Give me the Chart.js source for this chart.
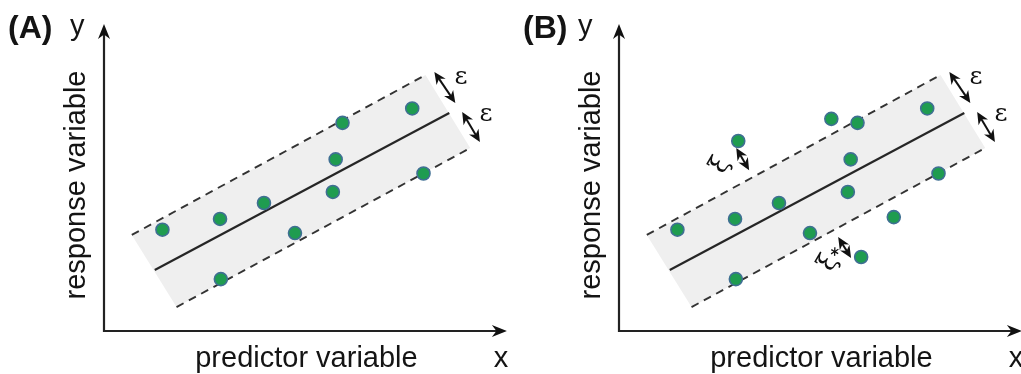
<!DOCTYPE html>
<html>
<head>
<meta charset="utf-8">
<script src="https://cdn.jsdelivr.net/npm/chart.js"></script>
<style>
  html, body { margin: 0; padding: 0; background: #fff; overflow: hidden; }
  #contenedor { position: relative; width: 1021px; height: 374px; overflow: hidden; }
  .panel { position: absolute; top: 0; width: 515px; height: 374px; }
  #panelA { left: 0; }
  #panelB { left: 515px; }
</style>
</head>
<body>
<div id="contenedor">
  <div class="panel" id="panelA"><canvas id="graficoA" width="515" height="374"></canvas></div>
  <div class="panel" id="panelB"><canvas id="graficoB" width="515" height="374"></canvas></div>
</div>
<script>
// Observaciones comunes a los dos paneles
const puntosX = [1.45, 2.88, 3.97, 4.74, 2.90, 5.68, 5.75, 5.92, 7.65, 7.93];
const puntosY = [3.30, 3.65, 4.17, 3.19, 1.69, 4.53, 5.59, 6.78, 7.25, 5.13];

// Observaciones extra del panel B (fuera de la banda)
const extraX = [5.27, 6.82, 6.01, 2.96];
const extraY = [6.91, 3.71, 2.41, 6.19];

// Recta ajustada y bordes de la banda (extremos)
const rectaX = [1.26, 8.57];
const rectaY = [1.99, 7.10];
const superiorX = [0.69, 7.98];
const superiorY = [3.13, 8.34];
const inferiorX = [1.80, 9.09];
const inferiorY = [0.78, 5.96];

// Flechas de epsilon (inicio, fin) y posición de sus etiquetas
const epsFlechas = [
  [[8.20, 8.44], [8.72, 7.43]],
  [[8.89, 7.13], [9.33, 6.16]]
];
const epsEtiquetas = [[8.86, 8.27], [9.48, 7.04]];

// Flechas de xi en el panel B
const xiFlechas = [
  [[2.91, 5.96], [3.23, 5.24]],
  [[5.44, 3.06], [5.76, 2.38]]
];
const xiEtiquetas = [[2.52, 5.40], [5.20, 2.22]];
const xiMarcas = ['', '*'];

const tituloX = 'predictor variable';
const tituloY = 'response variable';

function aPuntos(xs, ys) {
  return xs.map((x, i) => ({ x: x, y: ys[i] }));
}

// Punta de flecha con muesca, apuntando de (x0,y0) hacia (x1,y1)
function punta(ctx, x0, y0, x1, y1, largo, ancho) {
  const ang = Math.atan2(y1 - y0, x1 - x0);
  ctx.save();
  ctx.translate(x1, y1);
  ctx.rotate(ang);
  ctx.beginPath();
  ctx.moveTo(0, 0);
  ctx.lineTo(-largo, -ancho / 2);
  ctx.lineTo(-largo * 0.7, 0);
  ctx.lineTo(-largo, ancho / 2);
  ctx.closePath();
  ctx.fill();
  ctx.restore();
}

function flechaDoble(ctx, x0, y0, x1, y1) {
  const ang = Math.atan2(y1 - y0, x1 - x0);
  const c = Math.cos(ang) * 6, s = Math.sin(ang) * 6;
  ctx.beginPath();
  ctx.moveTo(x0 + c, y0 + s);
  ctx.lineTo(x1 - c, y1 - s);
  ctx.stroke();
  punta(ctx, x1, y1, x0, y0, 12, 11);
  punta(ctx, x0, y0, x1, y1, 12, 11);
}

// Plugin para ejes, textos y anotaciones
const decoracion = {
  id: 'decoracion',
  afterDraw(chart, args, op) {
    const ctx = chart.ctx;
    const a = chart.chartArea;
    const px = v => chart.scales.x.getPixelForValue(v);
    const py = v => chart.scales.y.getPixelForValue(v);
    ctx.save();

    // ejes con flecha
    ctx.strokeStyle = '#222';
    ctx.fillStyle = '#111';
    ctx.lineWidth = 2.2;
    ctx.beginPath();
    ctx.moveTo(a.left, a.top + 8);
    ctx.lineTo(a.left, a.bottom);
    ctx.lineTo(a.right - 8, a.bottom);
    ctx.stroke();
    punta(ctx, a.left, a.bottom, a.left, a.top, 15, 12);
    punta(ctx, a.left, a.bottom, a.right, a.bottom, 15, 12);

    // textos
    ctx.fillStyle = '#141414';
    ctx.textBaseline = 'alphabetic';
    ctx.textAlign = 'left';
    ctx.font = 'bold 32px "Liberation Sans", Arial, sans-serif';
    ctx.fillText(op.letra, 8, 38);
    ctx.font = '29px "Liberation Sans", Arial, sans-serif';
    ctx.fillText('y', op.yLetra, 35);
    ctx.textAlign = 'center';
    ctx.fillText(tituloX, (a.left + a.right) / 2 + 1, 367);
    ctx.fillText('x', 501, 367);
    ctx.save();
    ctx.translate(85, 185);
    ctx.rotate(-Math.PI / 2);
    ctx.fillText(tituloY, 0, 0);
    ctx.restore();

    // flechas de epsilon
    ctx.lineWidth = 2;
    ctx.fillStyle = '#111';
    ctx.strokeStyle = '#111';
    epsFlechas.forEach(f => flechaDoble(ctx, px(f[0][0]), py(f[0][1]), px(f[1][0]), py(f[1][1])));
    ctx.font = '25px "DejaVu Serif", serif';
    ctx.textBaseline = 'middle';
    epsEtiquetas.forEach(e => ctx.fillText('\u03b5', px(e[0]), py(e[1])));

    // flechas de xi (solo panel B)
    if (op.conXi) {
      xiFlechas.forEach(f => flechaDoble(ctx, px(f[0][0]), py(f[0][1]), px(f[1][0]), py(f[1][1])));
      xiEtiquetas.forEach((e, i) => {
        ctx.save();
        ctx.translate(px(e[0]), py(e[1]));
        ctx.rotate(-Math.PI / 3);
        ctx.font = '26px "DejaVu Serif", serif';
        ctx.fillText('\u03be', 0, 0);
        if (xiMarcas[i]) {
          ctx.font = 'bold 17px "DejaVu Sans", sans-serif';
          ctx.fillText(xiMarcas[i], 13, 4);
        }
        ctx.restore();
      });
    }
    ctx.restore();
  }
};

function crearPanel(idCanvas, puntos, conf) {
  const ctx = document.getElementById(idCanvas).getContext('2d');
  const banda = [
    { x: superiorX[0], y: superiorY[0] },
    { x: superiorX[1], y: superiorY[1] },
    { x: inferiorX[1], y: inferiorY[1] },
    { x: inferiorX[0], y: inferiorY[0] },
    { x: superiorX[0], y: superiorY[0] }
  ];
  return new Chart(ctx, {
    type: 'scatter',
    data: {
      datasets: [
        {
          type: 'line', data: banda, showLine: true, fill: 'shape',
          backgroundColor: '#efefef', borderColor: 'rgba(0,0,0,0)', borderWidth: 0,
          pointRadius: 0, tension: 0, order: 5
        },
        {
          type: 'line', data: aPuntos(superiorX, superiorY), showLine: true, fill: false,
          borderColor: '#333', borderWidth: 1.9, borderDash: [8, 6], pointRadius: 0, order: 4
        },
        {
          type: 'line', data: aPuntos(inferiorX, inferiorY), showLine: true, fill: false,
          borderColor: '#333', borderWidth: 1.9, borderDash: [8, 6], pointRadius: 0, order: 4
        },
        {
          type: 'line', data: aPuntos(rectaX, rectaY), showLine: true, fill: false,
          borderColor: '#262626', borderWidth: 2.2, pointRadius: 0, order: 3
        },
        {
          data: puntos, pointRadius: 6.5, pointBackgroundColor: '#1f9c50',
          pointBorderColor: '#3f6f93', pointBorderWidth: 1.6, order: 1
        }
      ]
    },
    options: {
      responsive: false,
      animation: false,
      layout: { padding: { left: 104, right: 5, top: 24, bottom: 43 } },
      scales: {
        x: { type: 'linear', min: 0, max: 10, display: false },
        y: { type: 'linear', min: 0, max: 10, display: false }
      },
      plugins: {
        legend: { display: false },
        tooltip: { enabled: false },
        decoracion: conf
      }
    },
    plugins: [decoracion]
  });
}

const puntosA = aPuntos(puntosX, puntosY);
const puntosB = puntosA.concat(aPuntos(extraX, extraY));

crearPanel('graficoA', puntosA, { letra: '(A)', yLetra: 70, conXi: false });
crearPanel('graficoB', puntosB, { letra: '(B)', yLetra: 63, conXi: true });
</script>
</body>
</html>
